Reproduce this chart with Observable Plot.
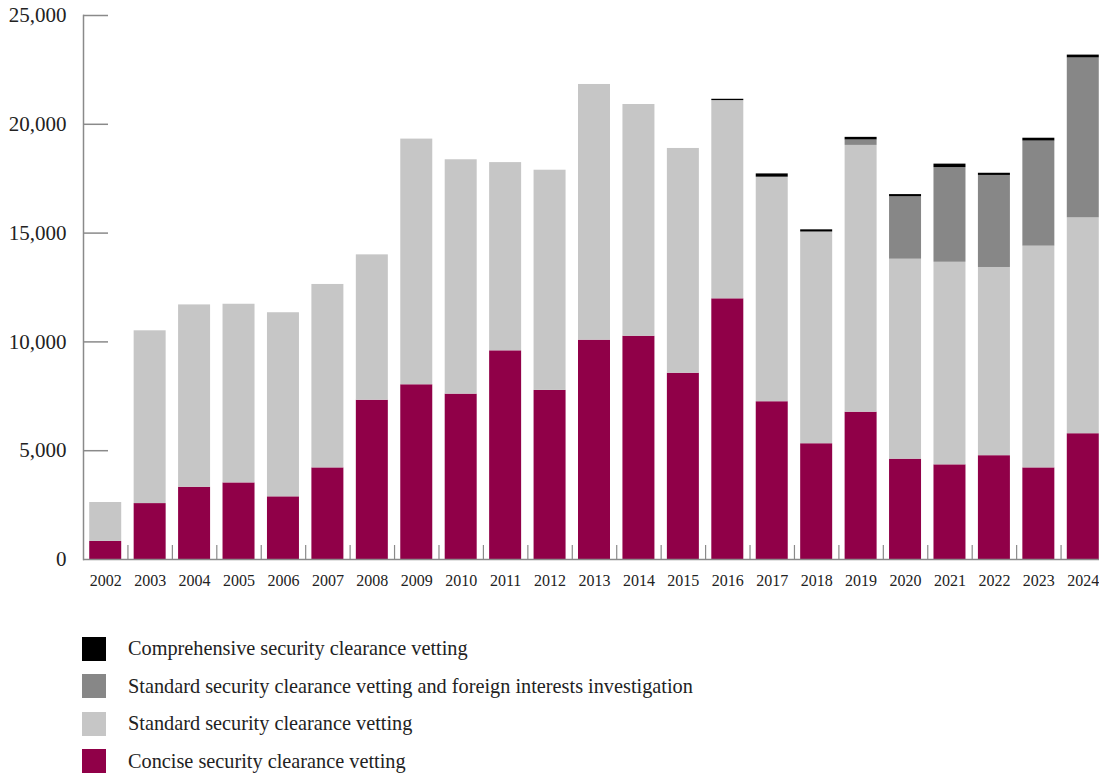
<!DOCTYPE html>
<html>
<head>
<meta charset="utf-8">
<script src="https://cdn.jsdelivr.net/npm/d3@7"></script>
<script src="https://cdn.jsdelivr.net/npm/@observablehq/plot@0.6"></script>
<style>
  html, body { margin: 0; padding: 0; background: white; }
  body { width: 1099px; height: 776px; overflow: hidden; font-family: "Liberation Serif", serif; }
  #legend { position: relative; padding-top: 30px; }
  .row { display: flex; align-items: center; height: 37.5px; }
  .sw { width: 24px; height: 24px; margin-left: 82px; margin-right: 22px; }
  .lab { font-size: 20.3px; color: #222; }
</style>
</head>
<body>
<div id="chart"></div>
<div id="legend"></div>
<script>
const years = ["2002","2003","2004","2005","2006","2007","2008","2009","2010","2011","2012","2013","2014","2015","2016","2017","2018","2019","2020","2021","2022","2023","2024"];
const concise = [830,2570,3320,3520,2880,4210,7320,8030,7600,9590,7770,10080,10260,8560,11980,7250,5320,6770,4610,4350,4770,4210,5780];
const standard = [1790,7940,8380,8210,8460,8430,6680,11290,10770,8650,10120,11750,10650,10330,9110,10320,9730,12260,9190,9310,8650,10190,9920];
const standardForeign = [0,0,0,0,0,0,0,0,0,0,0,0,0,0,0,0,0,250,2870,4350,4230,4830,7350];
const comprehensive = [0,0,0,0,0,0,0,0,0,0,0,0,0,0,60,150,100,120,100,160,100,130,130];
const seriesNames = [
  "Concise security clearance vetting",
  "Standard security clearance vetting",
  "Standard security clearance vetting and foreign interests investigation",
  "Comprehensive security clearance vetting"
];
const seriesColors = ["#900048", "#c6c6c6", "#878787", "#000000"];
const yTicks = [0, 5000, 10000, 15000, 20000, 25000];

const seriesValues = [concise, standard, standardForeign, comprehensive];
const data = years.flatMap((year, i) =>
  seriesNames.map((s, k) => ({year, series: s, value: seriesValues[k][i]}))
);

const W = 1099, H = 600, ML = 83, MT = 15, MB = 41;
const xRange = [83, 1105];
const step = (xRange[1] - xRange[0]) / years.length;
const axisColor = "#8a8a8a";

const chart = Plot.plot({
  width: W,
  height: H,
  marginLeft: ML,
  marginRight: 0,
  marginTop: MT,
  marginBottom: MB,
  style: {fontFamily: "Liberation Serif, serif", background: "white", color: "#222"},
  x: {domain: years, range: xRange, paddingInner: 0.28, paddingOuter: 0.14, round: false, label: null},
  y: {domain: [0, 25000], label: null},
  color: {domain: seriesNames, range: seriesColors},
  marks: [
    Plot.barY(data, {x: "year", y: "value", fill: "series"}),
    Plot.frame({anchor: "left", stroke: axisColor, strokeWidth: 1.5}),
    Plot.ruleY(yTicks.filter(d => d > 0), {stroke: axisColor, strokeWidth: 1.5, insetRight: W - ML - 25}),
    Plot.ruleY([0], {stroke: axisColor, strokeWidth: 1.5}),
    Plot.ruleX(years.slice(1), {x: d => d, dx: -step / 2, stroke: axisColor, strokeWidth: 1.2, insetTop: (H - MT - MB) - 14}),
    Plot.axisY({ticks: yTicks, tickSize: 0, tickPadding: 17, fontSize: 21, tickFormat: d3.format(","), label: null}),
    Plot.axisX({tickSize: 0, tickPadding: 15, fontSize: 16, label: null})
  ]
});
document.getElementById("chart").appendChild(chart);

const legend = document.getElementById("legend");
const order = [3, 2, 1, 0];
for (const k of order) {
  const row = document.createElement("div");
  row.className = "row";
  const sw = document.createElement("div");
  sw.className = "sw";
  sw.style.background = seriesColors[k];
  const lab = document.createElement("div");
  lab.className = "lab";
  lab.textContent = seriesNames[k];
  row.appendChild(sw);
  row.appendChild(lab);
  legend.appendChild(row);
}
</script>
</body>
</html>
